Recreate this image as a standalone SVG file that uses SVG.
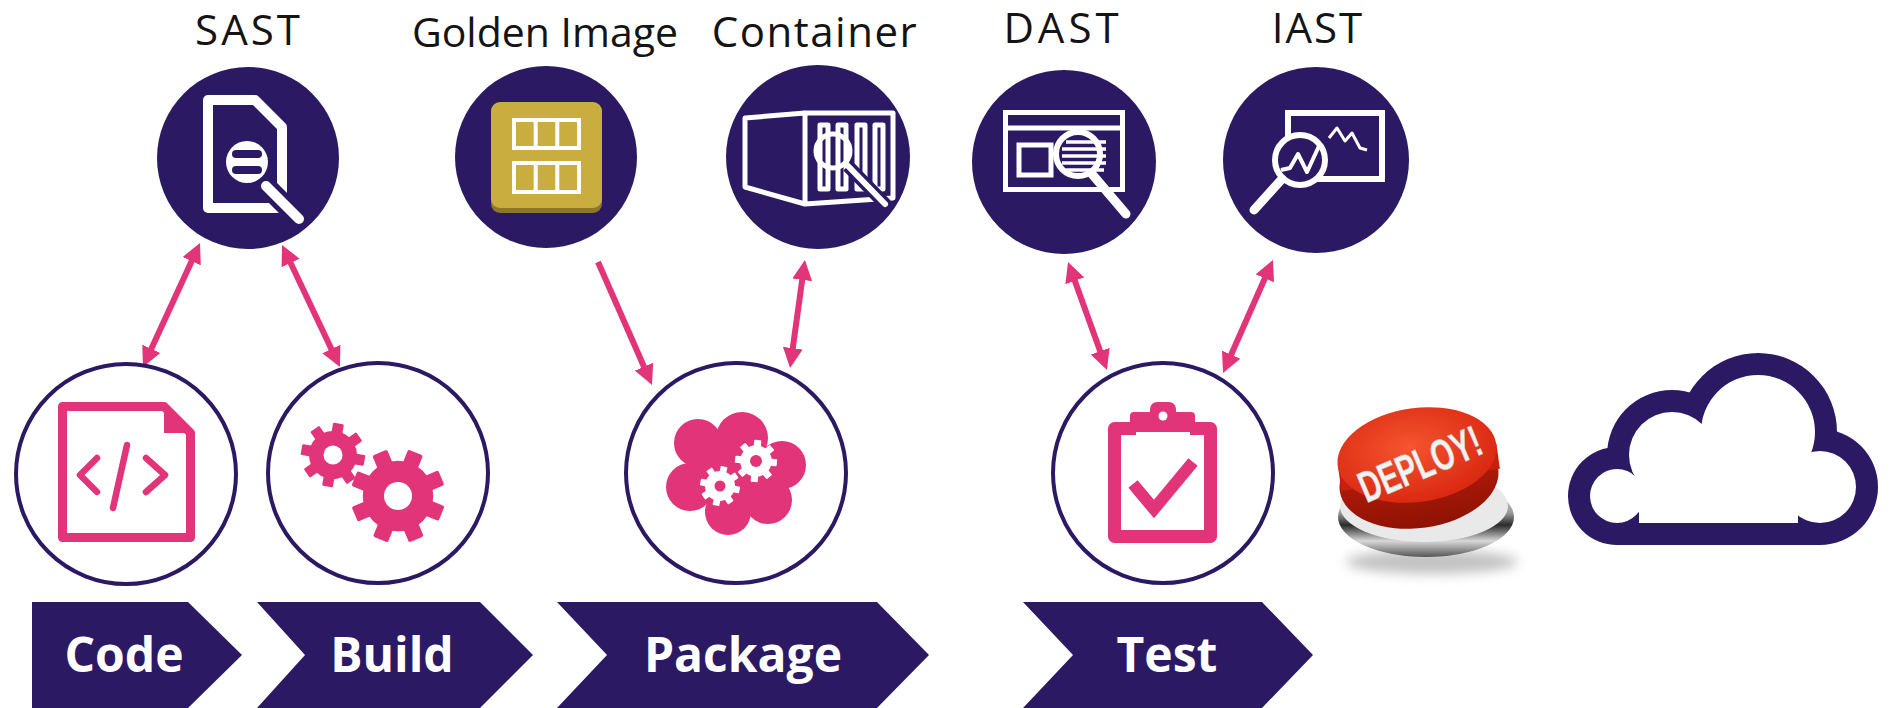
<svg xmlns="http://www.w3.org/2000/svg" width="1898" height="708" viewBox="0 0 1898 708">
  <style>
    .lbl { font-family: "Open Sans", "Liberation Sans", sans-serif; fill: #141414; text-anchor: middle; }
    .tool { fill: #2b1a63; }
    .stage { fill: #fff; stroke: #2b1a63; stroke-width: 4; }
    .banner { fill: #2b1a63; }
    .btxt { font-family: "Open Sans", "Liberation Sans", sans-serif; font-weight: 700; font-size: 48px; fill: #fff; text-anchor: middle; }
    .wl { fill: none; stroke: #fff; }
    .pk { fill: none; stroke: #e23479; }
    .conn line { stroke: #e23479; stroke-width: 6; }
  </style>
  <defs>
    <marker id="head" viewBox="0 0 20 20" markerWidth="20" markerHeight="20" refX="8" refY="10" orient="auto-start-reverse" markerUnits="userSpaceOnUse">
      <path d="M0,0 L20,10 L0,20 Z" fill="#e23479"/>
    </marker>
    <!-- unit gear: body + 8 teeth, outer radius 1 -->
    <g id="gear">
      <circle r="0.75"/>
      <rect x="-0.17" y="-1" width="0.34" height="0.4" rx="0.04"/>
      <rect x="-0.17" y="-1" width="0.34" height="0.4" rx="0.04" transform="rotate(45)"/>
      <rect x="-0.17" y="-1" width="0.34" height="0.4" rx="0.04" transform="rotate(90)"/>
      <rect x="-0.17" y="-1" width="0.34" height="0.4" rx="0.04" transform="rotate(135)"/>
      <rect x="-0.17" y="-1" width="0.34" height="0.4" rx="0.04" transform="rotate(180)"/>
      <rect x="-0.17" y="-1" width="0.34" height="0.4" rx="0.04" transform="rotate(225)"/>
      <rect x="-0.17" y="-1" width="0.34" height="0.4" rx="0.04" transform="rotate(270)"/>
      <rect x="-0.17" y="-1" width="0.34" height="0.4" rx="0.04" transform="rotate(315)"/>
    </g>
    <radialGradient id="redTop" cx="0.45" cy="0.4" r="0.65">
      <stop offset="0" stop-color="#f5552f"/>
      <stop offset="1" stop-color="#d8250f"/>
    </radialGradient>
    <linearGradient id="redSide" x1="0" y1="0" x2="0" y2="1">
      <stop offset="0" stop-color="#c8200c"/>
      <stop offset="1" stop-color="#8e1204"/>
    </linearGradient>
    <linearGradient id="chrome" x1="0" y1="0" x2="0" y2="1">
      <stop offset="0" stop-color="#f4f4f4"/>
      <stop offset="0.45" stop-color="#9a9a9a"/>
      <stop offset="0.6" stop-color="#2a2a2a"/>
      <stop offset="0.8" stop-color="#d8d8d8"/>
      <stop offset="1" stop-color="#555"/>
    </linearGradient>
    <filter id="soft" x="-30%" y="-100%" width="160%" height="300%">
      <feGaussianBlur stdDeviation="6"/>
    </filter>
  </defs>

  <rect width="1898" height="708" fill="#fff"/>

  <!-- tool labels -->
  <g id="labels">
    <text class="lbl" x="249" y="45" font-size="42" letter-spacing="3">SAST</text>
    <text class="lbl" x="545" y="47" font-size="41">Golden Image</text>
    <text class="lbl" x="815" y="47" font-size="42" letter-spacing="1.5">Container</text>
    <text class="lbl" x="1063" y="43" font-size="42" letter-spacing="4">DAST</text>
    <text class="lbl" x="1318" y="43" font-size="42" letter-spacing="2">IAST</text>
  </g>

  <!-- SAST: document under a magnifier -->
  <g id="sast">
    <circle class="tool" cx="248" cy="158" r="91"/>
    <path class="wl" d="M208,100 H255 L282,127 V208 H208 Z" stroke-width="10" stroke-linejoin="round"/>
    <line x1="266" y1="186" x2="300" y2="220" stroke="#2b1a63" stroke-width="20"/>
    <circle cx="247" cy="162" r="27" fill="#2b1a63"/>
    <circle cx="247" cy="162" r="21" fill="#fff"/>
    <rect x="232" y="150" width="30" height="8" rx="4" fill="#2b1a63"/>
    <rect x="232" y="166" width="30" height="8" rx="4" fill="#2b1a63"/>
    <line x1="266" y1="186" x2="299" y2="219" stroke="#fff" stroke-width="10" stroke-linecap="round"/>
  </g>

  <!-- Golden image -->
  <g id="golden-image">
    <circle class="tool" cx="546" cy="157" r="91"/>
    <rect x="491" y="104" width="111" height="109" rx="9" fill="#8c7726"/>
    <rect x="491" y="102" width="111" height="106" rx="9" fill="#c9ae3f"/>
    <g class="wl" stroke-width="4">
      <rect x="514" y="120" width="65" height="28"/>
      <line x1="535.7" y1="120" x2="535.7" y2="148"/>
      <line x1="557.3" y1="120" x2="557.3" y2="148"/>
      <rect x="514" y="163" width="65" height="29"/>
      <line x1="535.7" y1="163" x2="535.7" y2="192"/>
      <line x1="557.3" y1="163" x2="557.3" y2="192"/>
    </g>
  </g>

  <!-- Container scan -->
  <g id="container">
    <circle class="tool" cx="818" cy="157" r="92"/>
    <g class="wl" stroke-width="5" stroke-linejoin="round">
      <path d="M805,113 L745,118 V187 L805,204"/>
      <path d="M805,113 H893 V198 L805,204 Z"/>
      <rect x="820" y="125" width="8" height="64"/>
      <rect x="838" y="125" width="8" height="64"/>
      <rect x="857" y="125" width="8" height="64"/>
      <rect x="875" y="125" width="8" height="64"/>
      <circle cx="833" cy="151" r="17"/>
    </g>
    <line x1="848" y1="166" x2="886" y2="205" stroke="#2b1a63" stroke-width="13"/>
    <line x1="848" y1="166" x2="885" y2="204" stroke="#fff" stroke-width="6" stroke-linecap="round"/>
  </g>

  <!-- DAST: web page under a magnifier -->
  <g id="dast">
    <circle class="tool" cx="1064" cy="162" r="92"/>
    <g class="wl" stroke-width="5">
      <rect x="1005.5" y="112.5" width="117" height="77"/>
      <line x1="1005.5" y1="128" x2="1122.5" y2="128"/>
      <rect x="1019" y="145" width="32" height="30"/>
    </g>
    <circle cx="1078" cy="154" r="22" fill="#2b1a63" stroke="#fff" stroke-width="6"/>
    <g stroke="#fff" stroke-width="3.5">
      <line x1="1066" y1="142" x2="1106" y2="142"/>
      <line x1="1062" y1="149" x2="1106" y2="149"/>
      <line x1="1062" y1="156" x2="1106" y2="156"/>
      <line x1="1062" y1="163" x2="1106" y2="163"/>
      <line x1="1066" y1="170" x2="1104" y2="170"/>
    </g>
    <line x1="1092" y1="174" x2="1126" y2="214" stroke="#fff" stroke-width="9" stroke-linecap="round"/>
  </g>

  <!-- IAST: monitor chart under a magnifier -->
  <g id="iast">
    <circle class="tool" cx="1316" cy="160" r="93"/>
    <rect class="wl" x="1288" y="113" width="94" height="66" stroke-width="6"/>
    <circle cx="1300" cy="160" r="25" fill="#2b1a63" stroke="#fff" stroke-width="6"/>
    <polyline class="wl" points="1281,170 1290,168 1298,154 1307,172 1319,146" stroke-width="4" stroke-linejoin="round"/>
    <polyline class="wl" points="1329,138 1337,128 1345,141 1352,133 1360,148 1367,150" stroke-width="3" stroke-linejoin="round"/>
    <line x1="1282" y1="179" x2="1254" y2="210" stroke="#fff" stroke-width="9" stroke-linecap="round"/>
  </g>

  <!-- connectors -->
  <g id="connectors" class="conn">
    <line x1="195.0" y1="253.9" x2="148.0" y2="356.1" marker-start="url(#head)" marker-end="url(#head)"/>
    <line x1="287.2" y1="255.8" x2="334.8" y2="356.2" marker-start="url(#head)" marker-end="url(#head)"/>
    <line x1="598" y1="262" x2="647.2" y2="374.0" marker-end="url(#head)"/>
    <line x1="803.3" y1="271.9" x2="791.7" y2="356.1" marker-start="url(#head)" marker-end="url(#head)"/>
    <line x1="1072.1" y1="273.3" x2="1102.9" y2="358.7" marker-start="url(#head)" marker-end="url(#head)"/>
    <line x1="1268.1" y1="271.0" x2="1227.9" y2="362.0" marker-start="url(#head)" marker-end="url(#head)"/>
  </g>

  <!-- Code stage -->
  <g id="code">
    <circle class="stage" cx="126" cy="474" r="110"/>
    <path class="pk" d="M62.5,406.5 H164 L190.5,433 V537.5 H62.5 Z" stroke-width="9" stroke-linejoin="round"/>
    <path d="M164,406.5 V433 H190.5 Z" fill="#e23479"/>
    <g class="pk" stroke-width="6.5" stroke-linecap="round" stroke-linejoin="round">
      <polyline points="97,458 80,475 97,492"/>
      <line x1="127" y1="445" x2="113" y2="508"/>
      <polyline points="146,458 165,475 146,492"/>
    </g>
    <path class="banner" d="M32,602 H188 L242,655 L188,708 H32 Z"/>
    <text class="btxt" x="124" y="672">Code</text>
  </g>

  <!-- Build stage -->
  <g id="build">
    <circle class="stage" cx="378" cy="473" r="110"/>
    <use href="#gear" fill="#e23479" transform="translate(333,455) scale(32) rotate(10)"/>
    <circle cx="333" cy="455" r="9.5" fill="#fff"/>
    <use href="#gear" fill="#e23479" transform="translate(398,496) scale(47) rotate(22)"/>
    <circle cx="398" cy="496" r="14" fill="#fff"/>
    <path class="banner" d="M257,602 H480 L533,655 L480,708 H257 L305,655 Z"/>
    <text class="btxt" x="392" y="672">Build</text>
  </g>

  <!-- Package stage -->
  <g id="package">
    <circle class="stage" cx="736" cy="473" r="110"/>
    <g fill="#e23479">
      <circle cx="698" cy="443" r="24"/>
      <circle cx="742" cy="438" r="26"/>
      <circle cx="782" cy="465" r="24"/>
      <circle cx="768" cy="500" r="24"/>
      <circle cx="728" cy="512" r="23"/>
      <circle cx="690" cy="487" r="24"/>
      <circle cx="736" cy="474" r="40"/>
    </g>
    <use href="#gear" fill="#fff" transform="translate(720,486) scale(20) rotate(12)"/>
    <circle cx="720" cy="486" r="5.5" fill="#e23479"/>
    <use href="#gear" fill="#fff" transform="translate(756,461) scale(21) rotate(5)"/>
    <circle cx="756" cy="461" r="6" fill="#e23479"/>
    <path class="banner" d="M557,602 H877 L929,655 L877,708 H557 L607,655 Z"/>
    <text class="btxt" x="743" y="672">Package</text>
  </g>

  <!-- Test stage -->
  <g id="test">
    <circle class="stage" cx="1163" cy="473" r="110"/>
    <path class="pk" d="M1136,428.5 H1114.5 V536.5 H1210.5 V428.5 H1190" stroke-width="13" stroke-linejoin="round"/>
    <rect x="1130" y="412" width="65" height="20" rx="4" fill="#e23479"/>
    <rect x="1150" y="402" width="26" height="20" rx="7" fill="#e23479"/>
    <circle cx="1163" cy="416" r="4.5" fill="#fff"/>
    <polyline class="pk" points="1133,484 1154,509 1193,462" stroke-width="12"/>
    <path class="banner" d="M1023,602 H1262 L1313,655 L1262,708 H1023 L1073,655 Z"/>
    <text class="btxt" x="1167" y="672">Test</text>
  </g>

  <!-- deploy button -->
  <g id="deploy">
    <ellipse cx="1432" cy="562" rx="86" ry="12" fill="#9a9a9a" opacity="0.6" filter="url(#soft)"/>
    <ellipse cx="1426" cy="517" rx="88" ry="40" fill="url(#chrome)"/>
    <ellipse cx="1424" cy="506" rx="84" ry="36" fill="#e9e9e9"/>
    <ellipse cx="1419" cy="480" rx="80" ry="48" fill="url(#redSide)" transform="rotate(-8 1419 480)"/>
    <rect x="1339" y="455" width="160" height="25" fill="#c8200c" transform="rotate(-8 1419 468)"/>
    <ellipse cx="1417" cy="455" rx="80" ry="47" fill="url(#redTop)" transform="rotate(-8 1417 455)"/>
    <text x="0" y="0" font-family="'Liberation Sans', Arial, sans-serif" font-weight="700" font-size="44" fill="#f2f2f2" stroke="#c9c9c9" stroke-width="0.6" text-anchor="middle" transform="translate(1426,478) rotate(-23) scale(0.66,1)">DEPLOY!</text>
  </g>

  <!-- cloud outline -->
  <g id="cloud">
    <g fill="#2b1a63">
      <circle cx="1617" cy="496" r="49"/>
      <circle cx="1672" cy="455" r="65"/>
      <circle cx="1758" cy="432" r="79"/>
      <circle cx="1820" cy="487" r="58"/>
      <rect x="1617" y="440" width="203" height="105"/>
    </g>
    <g fill="#fff">
      <circle cx="1617" cy="496" r="27"/>
      <circle cx="1672" cy="455" r="43"/>
      <circle cx="1758" cy="432" r="57"/>
      <circle cx="1820" cy="487" r="36"/>
      <rect x="1639" y="462" width="159" height="61"/>
    </g>
  </g>
</svg>
